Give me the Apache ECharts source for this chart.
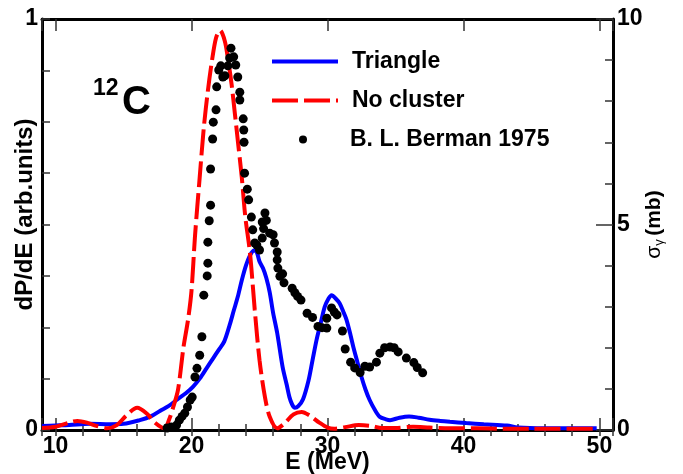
<!DOCTYPE html>
<html>
<head>
<meta charset="utf-8">
<script src="https://cdn.jsdelivr.net/npm/echarts@6/dist/echarts.min.js"></script>
<style>html,body{margin:0;padding:0;background:#fff}#chart{width:683px;height:474px}</style>
</head>
<body>
<div id="chart"></div>
<script>
// ---- data ----
const xTickLabels = [10, 20, 30, 40, 50];
const leftTickLabels = [0, 1];
const rightTickLabels = [0, 5, 10];

// Triangle: [E (MeV), dP/dE]
const triangle = [
  [9.0,0.010],[10,0.011],[11,0.012],[12.5,0.015],[14,0.014],[15,0.015],[16.2,0.024],[17.0,0.033],
  [17.7,0.047],[18.3,0.058],[18.9,0.073],[19.6,0.090],[20.1,0.105],[20.6,0.125],[21.1,0.150],
  [21.6,0.175],[22.0,0.195],[22.4,0.215],[22.8,0.255],[23.1,0.290],[23.4,0.324],[23.7,0.365],
  [24.0,0.400],[24.3,0.425],[24.6,0.437],[24.8,0.432],[25.0,0.410],[25.25,0.394],[25.5,0.370],
  [25.75,0.335],[26.0,0.285],[26.3,0.236],[26.7,0.153],[27.0,0.110],[27.2,0.080],[27.4,0.062],
  [27.6,0.054],[27.85,0.058],[28.2,0.075],[28.6,0.120],[28.9,0.170],[29.2,0.220],[29.5,0.260],
  [29.8,0.300],[30.05,0.318],[30.3,0.328],[30.6,0.320],[30.9,0.308],[31.2,0.285],[31.4,0.268],
  [31.7,0.230],[31.9,0.202],[32.2,0.165],[32.5,0.129],[32.8,0.098],[33.1,0.073],[33.5,0.048],
  [33.85,0.032],[34.3,0.026],[34.6,0.024],[35.3,0.030],[36.0,0.033],[36.7,0.030],[37.5,0.025],
  [38.3,0.022],[39.0,0.020],[40.2,0.017],[41.5,0.014],[43.2,0.011],[44.0,0.006],[46.0,0.004],[49.8,0.004]
];

// No cluster: [E (MeV), dP/dE]
const noCluster = [
  [9.0,0.005],[10.0,0.008],[11.0,0.018],[11.6,0.022],[12.3,0.018],[13.0,0.010],[13.8,0.004],
  [14.5,0.012],[15.2,0.035],[16.0,0.054],[16.7,0.040],[17.3,0.018],[18.0,0.004],[18.4,0.030],
  [18.6,0.050],[19.0,0.097],[19.4,0.200],[19.75,0.270],[20.0,0.340],[20.25,0.470],[20.6,0.615],
  [20.9,0.735],[21.2,0.825],[21.5,0.898],[21.8,0.954],[22.1,0.972],[22.45,0.946],[22.7,0.898],
  [22.95,0.840],[23.2,0.766],[23.45,0.690],[23.7,0.613],[23.95,0.520],[24.3,0.430],[24.65,0.292],
  [25.0,0.170],[25.4,0.080],[25.75,0.032],[26.3,0.004],[26.8,0.015],[27.5,0.038],[28.1,0.044],
  [28.7,0.035],[29.4,0.018],[30.0,0.006],[30.5,0.003],[31.3,0.007],[32.3,0.012],[33.2,0.010],
  [34.0,0.005],[35.0,0.005],[36.3,0.008],[37.5,0.006],[39.0,0.004],[41.0,0.004],[43.0,0.003],
  [45.0,0.003],[47.0,0.003],[49.8,0.003]
];

// B. L. Berman 1975: [E (MeV), sigma (mb)]
const berman = [
  [18.2,0.05],[18.5,0.07],[18.9,0.12],[19.1,0.24],[19.3,0.33],[19.5,0.41],[19.7,0.56],[19.9,0.73],
  [20.05,0.80],[20.25,1.29],[20.4,1.50],[20.6,1.82],[20.76,2.27],[20.9,3.28],[21.15,3.75],[21.2,4.06],
  [21.2,4.57],[21.3,5.09],[21.4,5.47],[21.4,6.35],[21.55,7.08],[21.6,7.49],[21.8,7.79],[21.85,8.35],
  [22.0,8.76],[22.15,8.86],[22.3,8.59],[22.45,8.62],[22.67,8.86],[22.8,9.05],[22.9,9.29],[23.1,9.08],
  [23.25,8.88],[23.4,8.59],[23.55,8.22],[23.55,8.03],[23.8,7.57],[23.84,7.30],[23.86,7.00],[23.9,6.25],
  [24.1,5.86],[24.2,5.60],[24.4,5.18],[24.5,4.87],[24.65,4.55],[24.8,4.50],[25.0,4.38],[25.2,4.67],
  [25.2,5.06],[25.3,4.90],[25.4,5.28],[25.5,5.10],[25.75,4.79],[26.0,4.75],[26.1,4.55],[26.3,4.33],
  [26.3,4.14],[26.35,3.94],[26.5,3.74],[26.7,3.80],[26.8,3.58],[27.4,3.45],[27.6,3.34],[27.8,3.25],
  [28.05,3.16],[28.5,2.84],[28.9,2.74],[29.3,2.52],[29.6,2.49],[29.95,2.48],[29.95,2.72],[30.3,2.97],
  [30.5,2.87],[30.7,2.80],[31.1,2.41],[31.3,1.97],[31.7,1.65],[32.0,1.51],[32.4,1.40],[32.75,1.55],
  [33.1,1.53],[33.6,1.65],[33.85,1.87],[34.2,2.00],[34.6,2.02],[34.9,2.00],[35.2,1.90],[35.8,1.75],
  [36.35,1.64],[36.6,1.52],[37.0,1.39]
];

// ---- chart ----
const FF = "'Liberation Sans', Arial, Helvetica, sans-serif";
const labelStyle = {color:'#000', fontSize:23, fontWeight:'bold', fontFamily:FF};
const tickLine = {color:'#333', width:1.5};
const frameLine = {show:true, onZero:false, lineStyle:{color:'#000', width:3}};

const xBase = {type:'value', min:9, max:51, splitLine:{show:false}};
const chart = echarts.init(document.getElementById('chart'), null, {renderer:'canvas'});
chart.setOption({
  animation:false,
  backgroundColor:'#fff',
  grid:{left:42, right:70, top:19, bottom:44, containLabel:false, outerBoundsMode:'none'},
  xAxis:[
    Object.assign({}, xBase, {position:'bottom', minInterval:10, maxInterval:10, splitNumber:4,
      axisLine:frameLine, axisTick:{inside:true, length:12, lineStyle:tickLine},
      axisLabel:Object.assign({margin:5, formatter:v => xTickLabels.includes(v) ? String(v) : ''}, labelStyle),
      name:'E (MeV)', nameLocation:'middle', nameGap:21, nameMoveOverlap:false,
      nameTextStyle:{color:'#000', fontSize:23, fontWeight:'bold', fontFamily:FF}}),
    Object.assign({}, xBase, {position:'bottom', minInterval:2, maxInterval:2, splitNumber:21,
      axisLine:{show:false}, axisTick:{inside:true, length:6, lineStyle:tickLine}, axisLabel:{show:false}}),
    Object.assign({}, xBase, {position:'top', minInterval:10, maxInterval:10, splitNumber:4,
      axisLine:frameLine, axisTick:{inside:true, length:12, lineStyle:tickLine}, axisLabel:{show:false}}),
    Object.assign({}, xBase, {position:'top', minInterval:2, maxInterval:2, splitNumber:21,
      axisLine:{show:false}, axisTick:{inside:true, length:6, lineStyle:tickLine}, axisLabel:{show:false}})
  ],
  yAxis:[
    {type:'value', position:'left', min:0, max:1, interval:0.125, splitLine:{show:false},
      axisLine:frameLine, axisTick:{inside:true, length:8, lineStyle:tickLine},
      axisLabel:Object.assign({margin:4, formatter:v => leftTickLabels.includes(v) ? String(v) : ''}, labelStyle),
      name:'dP/dE (arb.units)', nameLocation:'middle', nameGap:5, nameMoveOverlap:false,
      nameTextStyle:{color:'#000', fontSize:24, fontWeight:'bold', fontFamily:FF, padding:[0,0,0,20]}},
    {type:'value', position:'right', min:0, max:10, interval:1, splitLine:{show:false},
      axisLine:frameLine, axisTick:{inside:true, length:8, lineStyle:tickLine}, axisLabel:{show:false},
      name:'{s|σ}{g|γ} {b|(mb)}', nameLocation:'middle', nameGap:29, nameMoveOverlap:false,
      nameTextStyle:{color:'#000', fontFamily:FF, rich:{
        s:{fontSize:21, fontFamily:FF, color:'#000', lineHeight:24},
        g:{fontSize:13, fontFamily:FF, color:'#000', verticalAlign:'bottom', lineHeight:24},
        b:{fontSize:21, fontWeight:'bold', fontFamily:FF, color:'#000', lineHeight:24}}}},
    {type:'value', position:'right', min:0, max:10, interval:5, splitLine:{show:false},
      axisLine:{show:false}, axisTick:{inside:true, length:17, lineStyle:tickLine},
      axisLabel:Object.assign({margin:4, formatter:v => rightTickLabels.includes(v) ? String(v) : ''}, labelStyle)}
  ],
  legend:[
    {data:['Triangle'], left:270, top:50, padding:0, itemWidth:66, itemHeight:14, selectedMode:false,
      lineStyle:{width:4}, itemStyle:{opacity:0},
      textStyle:{color:'#000', fontSize:23, fontWeight:'bold', fontFamily:FF, padding:[0,0,0,9]}},
    {data:['No cluster'], left:270, top:89, padding:0, itemWidth:66, itemHeight:14, selectedMode:false,
      lineStyle:{width:4}, itemStyle:{opacity:0},
      textStyle:{color:'#000', fontSize:23, fontWeight:'bold', fontFamily:FF, padding:[0,0,0,9]}},
    {data:['B. L. Berman 1975'], left:299, top:128, padding:0, itemWidth:66, itemHeight:8, selectedMode:false,
      itemStyle:{opacity:1},
      textStyle:{color:'#000', fontSize:23, fontWeight:'bold', fontFamily:FF, padding:[0,0,0,9]}}
  ],
  graphic:[
    {type:'text', left:93, top:77, style:{text:'12', fontSize:23, fontWeight:'bold', fontFamily:FF, fill:'#000'}},
    {type:'text', left:122, top:83, style:{text:'C', fontSize:40, fontWeight:'bold', fontFamily:FF, fill:'#000'}}
  ],
  series:[
    {name:'Triangle', type:'line', xAxisIndex:0, yAxisIndex:0, data:triangle, symbol:'none', smooth:0.3,
      lineStyle:{color:'#0000ff', width:4}, itemStyle:{color:'#0000ff'}, z:2},
    {name:'No cluster', type:'line', xAxisIndex:0, yAxisIndex:0, data:noCluster, symbol:'none', smooth:0.3,
      lineStyle:{color:'#ff0000', width:4, type:[26,6]}, itemStyle:{color:'#ff0000'}, z:3},
    {name:'B. L. Berman 1975', type:'scatter', xAxisIndex:0, yAxisIndex:1, data:berman, symbol:'circle',
      symbolSize:9, itemStyle:{color:'#000', opacity:1}, z:4}
  ]
});
</script>
</body>
</html>
